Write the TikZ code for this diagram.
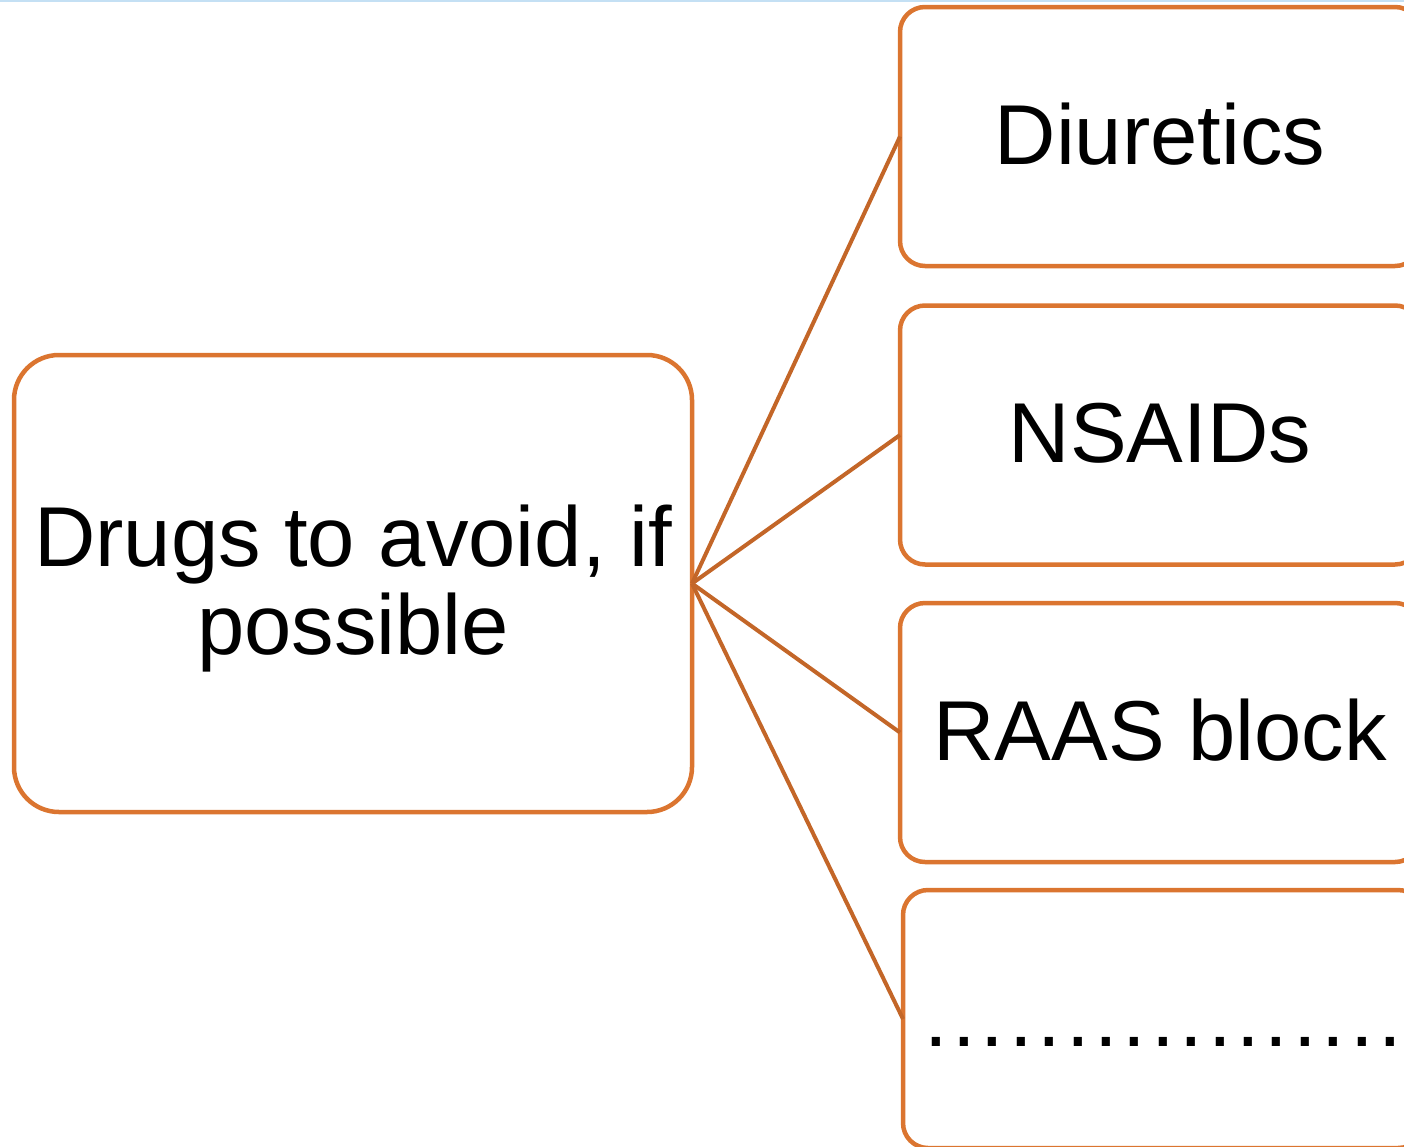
\documentclass[tikz,border=0pt]{standalone}
\usepackage{fontspec}
\setmainfont{Liberation Sans}
\newfontfamily\dotsfont[LetterSpace=5.6]{Liberation Sans}
\definecolor{boxorange}{RGB}{219,117,48}
\definecolor{lineorange}{RGB}{195,102,40}
\definecolor{topblue}{RGB}{196,224,244}
\begin{document}
\begin{tikzpicture}[x=1pt,y=-1pt,
  boxstyle/.style={draw=boxorange, line width=4.5pt, inner sep=0pt, outer sep=0pt, text=black, font=\fontsize{85}{88}\selectfont},
  leftbox/.style={boxstyle, rounded corners=45pt, minimum width=678pt, minimum height=457pt, align=center},
  rightbox/.style={boxstyle, rounded corners=25pt, minimum width=520pt, minimum height=259pt, text height=77pt, text depth=22pt},
  link/.style={draw=lineorange, line width=4pt}]
\useasboundingbox (0,0) rectangle (1404,1146);
\draw[topblue, line width=2pt] (0,1) -- (1404,1);
\node[leftbox] (drugs) at (353,583.5) {\rule{0pt}{71pt}Drugs to avoid, if\\possible};
\node[rightbox] (diur) at (1160,136.5) {Diuretics};
\node[rightbox] (nsaid) at (1160,435) {NSAIDs};
\node[rightbox] (raas) at (1160,732.5) {RAAS block};
\node[rightbox, minimum height=258pt, font=\dotsfont\fontsize{85}{88}\selectfont] (more) at (1163,1019) {.................};
\draw[link] (drugs.east) -- (diur.west);
\draw[link] (drugs.east) -- (nsaid.west);
\draw[link] (drugs.east) -- (raas.west);
\draw[link] (drugs.east) -- (more.west);
\end{tikzpicture}
\end{document}
